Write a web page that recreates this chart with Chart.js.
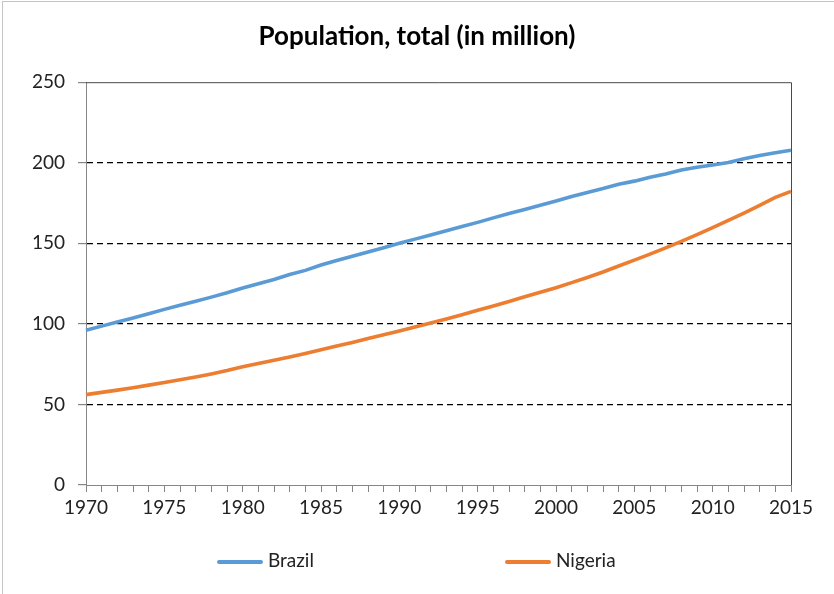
<!DOCTYPE html>
<html>
<head>
<meta charset="utf-8">
<script src="https://cdn.jsdelivr.net/npm/chart.js@4.4.0/dist/chart.umd.min.js"></script>
<style>
	html, body { margin: 0; padding: 0; background: #fff; }
	#wrap { position: relative; width: 834px; height: 594px; overflow: hidden; }
	#frame { position: absolute; left: 2px; top: 1px; width: 840px; height: 600px; border-left: 1px solid #c4c4c4; border-top: 1px solid #c4c4c4; pointer-events: none; }
	#legend { position: absolute; left: 0; top: 548px; width: 834px; height: 24px; font-family: Lato, "Open Sans", sans-serif; font-size: 19px; color: #222; }
	.item { position: absolute; top: 0; height: 24px; line-height: 24px; white-space: nowrap; }
	.swatch { display: inline-block; width: 46px; height: 4px; border-radius: 2px; vertical-align: middle; margin-right: 5px; }
</style>
</head>
<body>
<div id="wrap">
	<canvas id="chart" width="834" height="594"></canvas>
	<div id="frame"></div>
	<div id="legend"></div>
</div>
<script>

// data (millions)
const years = [
	1970, 1971, 1972, 1973, 1974, 1975, 1976, 1977, 1978, 1979,
	1980, 1981, 1982, 1983, 1984, 1985, 1986, 1987, 1988, 1989,
	1990, 1991, 1992, 1993, 1994, 1995, 1996, 1997, 1998, 1999,
	2000, 2001, 2002, 2003, 2004, 2005, 2006, 2007, 2008, 2009,
	2010, 2011, 2012, 2013, 2014, 2015
];

const brazil = [
	96.0, 98.6, 101.2, 103.7, 106.3, 109.0, 111.5, 114.0, 116.6, 119.3,
	122.3, 124.9, 127.5, 130.6, 133.2, 136.5, 139.3, 142.0, 144.6, 147.3,
	150.0, 152.6, 155.2, 157.8, 160.4, 163.0, 165.8, 168.5, 171.0, 173.6,
	176.2, 179.0, 181.6, 184.0, 186.7, 188.6, 191.0, 193.0, 195.5, 197.2,
	198.6, 200.2, 202.5, 204.5, 206.2, 207.8
];

const nigeria = [
	56.1, 57.5, 58.9, 60.4, 62.0, 63.6, 65.3, 67.0, 68.9, 71.0,
	73.4, 75.4, 77.4, 79.4, 81.6, 83.9, 86.2, 88.5, 90.9, 93.2,
	95.6, 98.1, 100.6, 103.1, 105.7, 108.4, 111.1, 113.9, 116.8, 119.6,
	122.4, 125.6, 128.8, 132.2, 135.9, 139.6, 143.3, 147.2, 151.2, 155.4,
	159.7, 164.2, 168.8, 173.6, 178.5, 182.2
];

const seriesNames = ['Brazil', 'Nigeria'];
const seriesColors = ['#5b9bd5', '#ed7d31'];
const titleText = 'Population, total (in million)';

const yMin = 0;
const yMax = 250;
const yStep = 50;

// where each legend entry starts
const legendLeft = [217, 505];

const FONT = 'Lato, "Open Sans", sans-serif';

// top + right edge of the plot area
const plotFrame = {
	id: 'plotFrame',
	beforeDatasetsDraw(chart) {
		const { ctx, chartArea: a } = chart;
		ctx.save();
		ctx.strokeStyle = '#4a4a4a';
		ctx.lineWidth = 1;
		ctx.beginPath();
		ctx.moveTo(a.left, a.top + 0.5);
		ctx.lineTo(a.right + 0.5, a.top + 0.5);
		ctx.lineTo(a.right + 0.5, a.bottom);
		ctx.stroke();
		ctx.restore();
	}
};

const chart = new Chart(document.getElementById('chart'), {
	type: 'line',
	data: {
		labels: years,
		datasets: [
			{ label: seriesNames[0], data: brazil, borderColor: seriesColors[0], backgroundColor: seriesColors[0] },
			{ label: seriesNames[1], data: nigeria, borderColor: seriesColors[1], backgroundColor: seriesColors[1] }
		].map(ds => ({ ...ds, borderWidth: 3.6, pointRadius: 0, tension: 0, fill: false, yAxisID: 'y' }))
	},
	options: {
		responsive: false,
		animation: false,
		layout: { padding: { left: 0, right: 0, top: 0, bottom: 69 } },
		plugins: {
			legend: { display: false },
			tooltip: { enabled: false },
			title: {
				display: true,
				text: titleText,
				color: '#000',
				font: { family: FONT, size: 26, weight: 'bold', lineHeight: 1.2 },
				padding: { top: 21, bottom: 30 }
			}
		},
		scales: {
			x: {
				type: 'category',
				offset: false,
				afterFit: s => { s.height = 40; },
				border: { display: true, color: '#868686', width: 1 },
				grid: { drawOnChartArea: false, drawTicks: true, tickLength: 7, tickColor: '#868686' },
				ticks: {
					autoSkip: false,
					maxRotation: 0,
					padding: 4,
					color: '#222',
					font: { family: FONT, size: 19 },
					callback: (val, i) => (years[i] % 5 === 0 ? String(years[i]) : '')
				}
			},
			y: {
				min: yMin,
				max: yMax,
				afterFit: s => { s.width = 86; },
				border: { display: true, color: '#868686', width: 1, dash: [6, 4] },
				grid: {
					color: c => (c.tick.value === yMin || c.tick.value === yMax ? 'rgba(0,0,0,0)' : '#000'),
					lineWidth: 1.2,
					drawTicks: true,
					tickLength: 8,
					tickColor: '#868686',
					tickBorderDash: []
				},
				ticks: {
					stepSize: yStep,
					padding: 13,
					color: '#222',
					font: { family: FONT, size: 19 }
				}
			},
			// empty right-hand strip, keeps the plot right edge at 791
			yRight: {
				position: 'right',
				min: yMin,
				max: yMax,
				afterFit: s => { s.width = 43; },
				border: { display: false },
				grid: { display: false },
				ticks: { display: false }
			}
		}
	},
	plugins: [plotFrame]
});

// legend
const legendEl = document.getElementById('legend');
chart.data.datasets.forEach((ds, i) => {
	const item = document.createElement('div');
	item.className = 'item';
	item.style.left = legendLeft[i] + 'px';
	const sw = document.createElement('span');
	sw.className = 'swatch';
	sw.style.background = ds.borderColor;
	item.appendChild(sw);
	item.appendChild(document.createTextNode(ds.label));
	legendEl.appendChild(item);
});

</script>
</body>
</html>
